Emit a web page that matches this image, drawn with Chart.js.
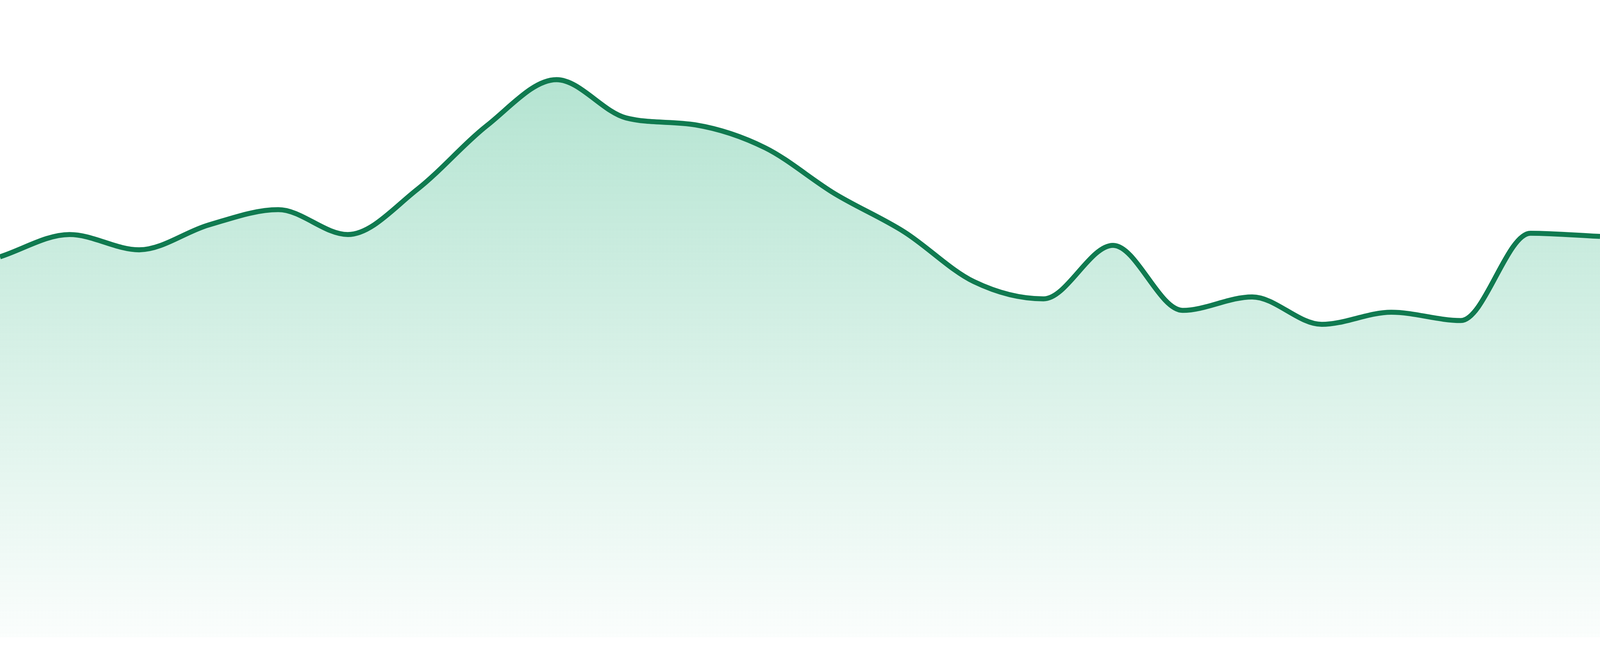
<!DOCTYPE html>
<html>
<head>
<meta charset="utf-8">
<script src="https://cdn.jsdelivr.net/npm/chart.js@4.4.1/dist/chart.umd.min.js"></script>
<style>
    html, body { margin: 0; padding: 0; background: #ffffff; overflow: hidden; }
    #wrap { position: relative; width: 100vw; height: 100vh; }
</style>
</head>
<body>
<div id="wrap"><canvas id="mainChart"></canvas></div>
<script>
// x categories (no visible labels in the picture)
const labels = ['1', '2', '3', '4', '5', '6', '7', '8', '9', '10', '11', '12',
                '13', '14', '15', '16', '17', '18', '19', '20', '21', '22', '23', '24'];

// values (scale 0..100)
const values = [59.7, 63.2, 60.8, 64.7, 67.1, 63.2, 70.3, 80.3, 87.5, 81.5, 80.4, 76.8,
                69.6, 63.6, 55.8, 53.1, 61.5, 51.3, 53.4, 49.1, 51.0, 49.7, 63.4, 62.9];

const yMin = 0;
const yMax = 100;

const lineColor = '#107a50';

// the reference is 4800x1680; scale pixel sizes to whatever the viewport really is
const sx = window.innerWidth / 4800;
const sy = window.innerHeight / 1680;

// vertical green fade under the line
const areaFill = (context) => {
    const { ctx, chartArea } = context.chart;
    if (!chartArea) return 'rgba(20,170,112,0.2)';
    const g = ctx.createLinearGradient(0, chartArea.top, 0, chartArea.bottom);
    g.addColorStop(0, 'rgba(20,170,112,0.36)');
    g.addColorStop(1, 'rgba(20,170,112,0.02)');
    return g;
};

new Chart(document.getElementById('mainChart').getContext('2d'), {
    type: 'line',
    data: {
        labels,
        datasets: [{
            data: values,
            borderColor: lineColor,
            borderWidth: 15 * sx,
            backgroundColor: areaFill,
            fill: 'start',
            cubicInterpolationMode: 'monotone',
            pointRadius: 0,
            pointHoverRadius: 0
        }]
    },
    options: {
        responsive: true,
        maintainAspectRatio: false,
        animation: false,
        layout: { padding: { top: 0, right: 0, bottom: 48 * sy, left: 0 } },
        plugins: {
            legend: { display: false },
            tooltip: { enabled: false }
        },
        scales: {
            x: { display: false, offset: false },
            y: { display: false, min: yMin, max: yMax }
        }
    }
});
</script>
</body>
</html>
